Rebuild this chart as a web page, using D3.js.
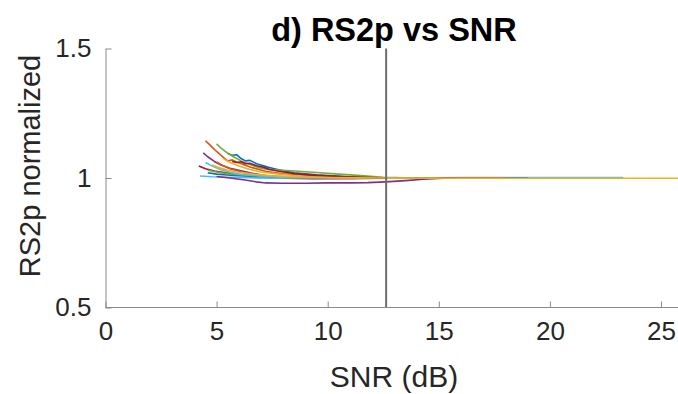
<!DOCTYPE html>
<html>
<head>
<meta charset="utf-8">
<script src="https://cdn.jsdelivr.net/npm/d3@7"></script>
<style>
  html, body { margin: 0; padding: 0; background: #fff; }
  svg { display: block; font-family: 'Liberation Sans', Arial, sans-serif; }
</style>
</head>
<body>
<div id="chart"></div>
<script>
// MATLAB default colour order
const colorOrder = ['#0072BD', '#D95319', '#EDB120', '#7E2F8E', '#77AC30', '#4DBEEE', '#A2142F'];

const xTicks = [0, 5, 10, 15, 20, 25];
const yTicks = [0.5, 1, 1.5];
const thresholdSnr = 12.63;

// [SNR dB, RS2p normalized]
const blueA = [[5.5, 1.095], [5.7, 1.088], [5.9, 1.09], [6.1, 1.075], [6.3, 1.066], [6.5, 1.068], [6.8, 1.055], [7.0, 1.05], [7.3, 1.042], [7.6, 1.036], [8.0, 1.028], [8.5, 1.02], [9.5, 1.012], [11, 1.005], [12.6, 1.0], [15, 1.0], [17.5, 1.0]];
const orangeA = [[4.5, 1.143], [4.7, 1.128], [4.9, 1.11], [5.1, 1.095], [5.3, 1.08], [5.5, 1.066], [5.7, 1.07], [5.9, 1.062], [6.2, 1.052], [6.6, 1.04], [7.2, 1.026], [8.0, 1.016], [9.0, 1.01], [10.5, 1.004], [12.5, 1.001], [14, 1.0], [17, 1.0], [19, 1.0]];
const yellowA = [[4.8, 1.05], [5.1, 1.04], [5.5, 1.03], [6.0, 1.022], [6.6, 1.015], [7.4, 1.009], [8.5, 1.005], [10, 1.002], [12.6, 1.0], [16, 0.999], [20, 0.999], [25.8, 0.999]];
const purpleA = [[4.4, 1.097], [4.6, 1.082], [4.9, 1.064], [5.2, 1.05], [5.6, 1.038], [6.0, 1.03], [6.5, 1.02], [7.0, 1.012], [7.6, 1.004], [8.3, 0.999], [9.3, 0.997], [10.5, 0.998], [11.5, 0.999], [12.6, 1.0], [14.5, 0.999], [16.7, 0.999]];
const greenA = [[5.0, 1.132], [5.2, 1.115], [5.5, 1.096], [5.8, 1.08], [6.1, 1.066], [6.5, 1.052], [6.9, 1.04], [7.3, 1.033], [7.8, 1.031], [8.5, 1.027], [9.5, 1.021], [10.5, 1.015], [11.5, 1.009], [12.5, 1.003], [14, 1.0], [17, 1.0]];
const cyanA = [[4.25, 1.008], [4.8, 1.005], [5.5, 1.003], [6.5, 1.001], [7.5, 0.999], [9, 0.998], [10.5, 0.999], [12.6, 1.0], [16, 1.002], [20, 1.002], [23.3, 1.002]];
const darkRedA = [[4.2, 1.046], [4.5, 1.036], [4.9, 1.027], [5.4, 1.02], [6.0, 1.013], [7.0, 1.008], [8.0, 1.004], [10, 1.001], [12.6, 1.0], [15, 1.0]];
const blueB = [[4.6, 1.02], [5.0, 1.015], [5.8, 1.01], [6.8, 1.006], [8.0, 1.003], [10, 1.001], [12.6, 1.0], [16, 1.0], [19, 1.0]];
const orangeB = [[5.0, 1.062], [5.3, 1.047], [5.6, 1.036], [6.0, 1.026], [6.5, 1.016], [7.3, 1.007], [8.2, 1.001], [9.5, 0.998], [11, 0.997], [12.6, 0.999], [15, 1.0], [18, 1.0]];
const yellowB = [[5.3, 1.075], [5.6, 1.06], [6.0, 1.046], [6.5, 1.033], [7.0, 1.023], [8.0, 1.013], [9.0, 1.007], [10.5, 1.002], [12.6, 1.0], [14, 1.0]];
const purpleB = [[5.0, 1.006], [5.6, 1.0], [6.2, 0.993], [6.8, 0.985], [7.2, 0.981], [8.0, 0.98], [9.0, 0.98], [10.0, 0.981], [11.0, 0.981], [11.8, 0.982], [12.6, 0.985], [13.5, 0.99], [14.3, 0.995], [15.2, 0.999], [15.8, 0.999]];
const greenB = [[4.6, 1.03], [5.0, 1.023], [5.5, 1.016], [6.5, 1.01], [8.0, 1.005], [10, 1.002], [12.6, 1.0], [15, 1.0]];
const cyanB = [[4.5, 1.06], [4.8, 1.046], [5.2, 1.032], [5.6, 1.022], [6.0, 1.015], [7.0, 1.007], [8.0, 1.002], [10, 1.0], [13, 1.0]];
const darkRedB = [[5.7, 1.064], [5.9, 1.06], [6.1, 1.063], [6.3, 1.055], [6.5, 1.057], [6.8, 1.047], [7.1, 1.042], [7.4, 1.033], [7.8, 1.026], [8.5, 1.017], [9.5, 1.01], [11, 1.004], [12.6, 1.0]];

const series = [blueA, orangeA, yellowA, purpleA, greenA, cyanA, darkRedA,
  blueB, orangeB, yellowB, purpleB, greenB, cyanB, darkRedB];

const width = 678;
const height = 394;
const margin = { top: 48.5, right: 0, bottom: 86.5, left: 105.5 };
const plotBottom = height - margin.bottom;

const x = d3.scaleLinear().domain([0, 25]).range([margin.left, 661]);
const y = d3.scaleLinear().domain([0.5, 1.5]).range([plotBottom, margin.top]);

const svg = d3.select('#chart')
  .append('svg')
  .attr('width', width)
  .attr('height', height);

const axisColor = '#8a8a8a';
const textColor = '#262626';

// lines
const line = d3.line()
  .x(d => x(d[0]))
  .y(d => y(d[1]));

const linesG = svg.append('g').attr('class', 'lines');
linesG.selectAll('path')
  .data(series)
  .enter()
  .append('path')
  .attr('fill', 'none')
  .attr('stroke', (d, i) => colorOrder[i % colorOrder.length])
  .attr('stroke-width', 1.6)
  .attr('stroke-linejoin', 'round')
  .attr('d', line);

// yellow trace sits on top towards high SNR
linesG.selectAll('path').filter(d => d === yellowA).raise();

// threshold marker
svg.append('line')
  .attr('x1', x(thresholdSnr))
  .attr('x2', x(thresholdSnr))
  .attr('y1', y(1.5))
  .attr('y2', y(0.5))
  .attr('stroke', '#6e6e6e')
  .attr('stroke-width', 2);

// axes (MATLAB style: ticks inside, box off)
const xAxis = svg.append('g')
  .attr('transform', `translate(0,${plotBottom})`)
  .call(d3.axisBottom(x).tickValues(xTicks).tickSizeInner(-6).tickSizeOuter(0).tickPadding(14));
xAxis.select('.domain').attr('stroke', axisColor).attr('d', `M${margin.left},0H${width}`);
xAxis.selectAll('.tick line').attr('stroke', axisColor);
xAxis.selectAll('.tick text')
  .attr('fill', textColor)
  .attr('font-size', 26)
  .attr('font-family', "'Liberation Sans', Arial, sans-serif");

const yAxis = svg.append('g')
  .attr('transform', `translate(${margin.left},0)`)
  .call(d3.axisLeft(y).tickValues(yTicks).tickFormat(d3.format('')).tickSizeInner(-6).tickSizeOuter(0).tickPadding(14));
yAxis.select('.domain').attr('stroke', axisColor);
yAxis.selectAll('.tick line').attr('stroke', axisColor);
yAxis.selectAll('.tick text')
  .attr('fill', textColor)
  .attr('font-size', 26)
  .attr('font-family', "'Liberation Sans', Arial, sans-serif");

// labels
svg.append('text')
  .attr('x', 394)
  .attr('y', 387)
  .attr('text-anchor', 'middle')
  .attr('fill', textColor)
  .attr('font-size', 30)
  .text('SNR (dB)');

svg.append('text')
  .attr('transform', 'translate(40,166) rotate(-90)')
  .attr('text-anchor', 'middle')
  .attr('fill', textColor)
  .attr('font-size', 29)
  .text('RS2p normalized');

svg.append('text')
  .attr('x', 394)
  .attr('y', 41)
  .attr('text-anchor', 'middle')
  .attr('fill', '#000')
  .attr('font-size', 32.5)
  .attr('font-weight', 'bold')
  .text('d) RS2p vs SNR');
</script>
</body>
</html>
